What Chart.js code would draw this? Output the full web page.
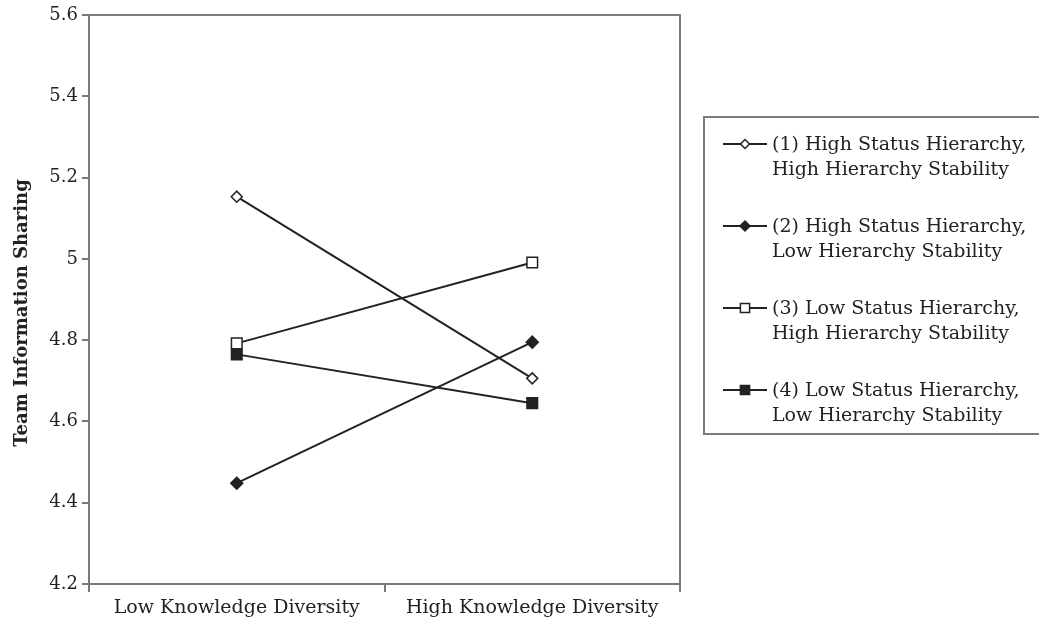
<!DOCTYPE html>
<html>
<head>
<meta charset="utf-8">
<script src="https://cdn.jsdelivr.net/npm/chart.js@4/dist/chart.umd.min.js"></script>
<style>
  html, body { margin: 0; padding: 0; background: #fff; }
  #wrap { width: 1039px; height: 623px; }
</style>
</head>
<body>
<div id="wrap"><canvas id="chart"></canvas></div>
<script>
const categories = ['Low Knowledge Diversity', 'High Knowledge Diversity']
const yTicks = [4.2, 4.4, 4.6, 4.8, 5, 5.2, 5.4, 5.6]
const yTitle = 'Team Information Sharing'

const highStatusHighStability = [5.153, 4.706]
const highStatusLowStability = [4.448, 4.795]
const lowStatusHighStability = [4.792, 4.991]
const lowStatusLowStability = [4.765, 4.645]

const legendLines = [
  ['(1) High Status Hierarchy,', 'High Hierarchy Stability'],
  ['(2) High Status Hierarchy,', 'Low Hierarchy Stability'],
  ['(3) Low Status Hierarchy,', 'High Hierarchy Stability'],
  ['(4) Low Status Hierarchy,', 'Low Hierarchy Stability']
]

const FONT = '"DejaVu Serif", "Liberation Serif", serif'
const AXIS = '#7a7a7a'
const INK = '#222'

const series = (idx, data, pointStyle, filled, radius) => ({
  label: legendLines[idx].join(' '),
  data,
  borderColor: INK,
  borderWidth: 2,
  pointStyle,
  pointRadius: radius,
  pointBorderWidth: 1.5,
  pointBorderColor: INK,
  pointBackgroundColor: filled ? INK : '#fff',
  tension: 0
})

// legend box on the right, two lines per entry
const boxLegend = {
  id: 'boxLegend',
  afterDraw: chart => {
    const ctx = chart.ctx
    ctx.save()
    ctx.strokeStyle = AXIS
    ctx.lineWidth = 2
    ctx.strokeRect(704, 117, 345, 317)
    ctx.font = '19px ' + FONT
    ctx.textBaseline = 'middle'
    ctx.textAlign = 'left'
    chart.data.datasets.forEach((ds, i) => {
      const y = 144 + i * 82
      ctx.strokeStyle = INK
      ctx.lineWidth = 2
      ctx.beginPath()
      ctx.moveTo(723, y)
      ctx.lineTo(767, y)
      ctx.stroke()
      ctx.fillStyle = ds.pointBackgroundColor
      ctx.strokeStyle = ds.pointBorderColor
      ctx.lineWidth = ds.pointBorderWidth
      Chart.helpers.drawPoint(ctx, {
        pointStyle: ds.pointStyle,
        radius: ds.pointRadius - 1,
        borderWidth: ds.pointBorderWidth
      }, 745, y)
      ctx.fillStyle = INK
      legendLines[i].forEach((t, j) => ctx.fillText(t, 772, y + 1 + j * 25))
    })
    ctx.restore()
  }
}

// top and right edges of the plot frame, plus the rotated y title
const frame = {
  id: 'frame',
  afterDraw: chart => {
    const { top, right, left, bottom } = chart.chartArea
    const ctx = chart.ctx
    ctx.save()
    ctx.strokeStyle = AXIS
    ctx.lineWidth = 2
    ctx.beginPath()
    ctx.moveTo(left, top)
    ctx.lineTo(right, top)
    ctx.lineTo(right, bottom)
    ctx.stroke()
    ctx.translate(22, 313)
    ctx.rotate(-Math.PI / 2)
    ctx.font = 'bold 18px ' + FONT
    ctx.fillStyle = INK
    ctx.textAlign = 'center'
    ctx.textBaseline = 'middle'
    ctx.fillText(yTitle, 0, 0)
    ctx.restore()
  }
}

new Chart(document.getElementById('chart'), {
  type: 'line',
  data: {
    labels: categories,
    datasets: [
      series(0, highStatusHighStability, 'rectRot', false, 5.5),
      series(1, highStatusLowStability, 'rectRot', true, 6),
      series(2, lowStatusHighStability, 'rect', false, 7.5),
      series(3, lowStatusLowStability, 'rect', true, 7.5)
    ]
  },
  options: {
    responsive: true,
    maintainAspectRatio: false,
    animation: false,
    layout: { padding: { top: 15, right: 359, left: 0, bottom: 0 } },
    plugins: {
      legend: { display: false },
      tooltip: { enabled: false }
    },
    scales: {
      x: {
        offset: true,
        grid: {
          offset: true,
          drawOnChartArea: false,
          drawTicks: true,
          tickLength: 8,
          color: AXIS,
          lineWidth: 2
        },
        border: { color: AXIS, width: 2 },
        ticks: {
          color: INK,
          padding: 5,
          maxRotation: 0,
          font: { family: FONT, size: 19 }
        },
        afterFit: scale => { scale.height = 39 }
      },
      y: {
        min: 4.2,
        max: 5.6,
        afterBuildTicks: scale => { scale.ticks = yTicks.map(v => ({ value: v })) },
        grid: {
          drawOnChartArea: false,
          drawTicks: true,
          tickLength: 7,
          color: AXIS,
          lineWidth: 2
        },
        border: { color: AXIS, width: 2 },
        ticks: {
          color: INK,
          padding: 4,
          font: { family: FONT, size: 18 },
          callback: v => String(v)
        },
        afterFit: scale => { scale.width = 89 }
      }
    }
  },
  plugins: [boxLegend, frame]
})
</script>
</body>
</html>
